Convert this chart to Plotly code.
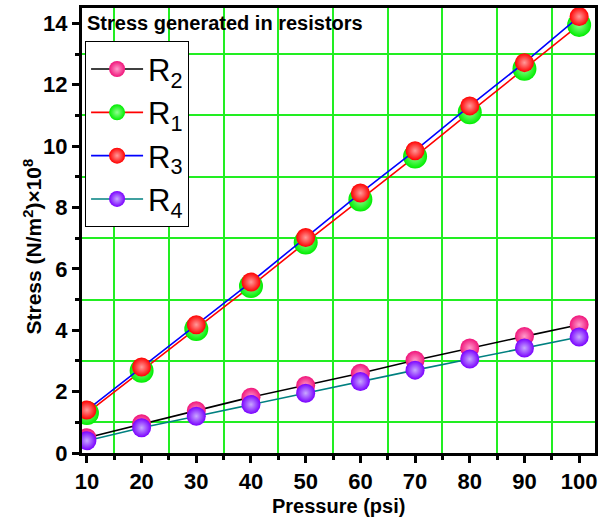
import plotly.graph_objects as go

pressure = [10, 20, 30, 40, 50, 60, 70, 80, 90, 100]
r2 = [0.50, 0.95, 1.38, 1.82, 2.20, 2.60, 3.02, 3.42, 3.80, 4.18]
r1 = [1.30, 2.68, 4.04, 5.44, 6.86, 8.26, 9.66, 11.10, 12.52, 13.95]
r3 = [1.40, 2.80, 4.18, 5.57, 7.02, 8.47, 9.85, 11.31, 12.72, 14.22]
r4 = [0.40, 0.82, 1.20, 1.58, 1.95, 2.33, 2.70, 3.06, 3.42, 3.78]

series = [
    ("R<sub>2</sub>", r2, "black", "#f0147a", "#ff9ccc", 19),
    ("R<sub>1</sub>", r1, "red", "#00ee00", "#90ff90", 24),
    ("R<sub>3</sub>", r3, "blue", "#ff0000", "#ff9a9a", 19),
    ("R<sub>4</sub>", r4, "#008080", "#7a00ff", "#c8a8ff", 19),
]

fig = go.Figure()
for name, ys, lc, mc, hc, ms in series:
    fig.add_trace(go.Scatter(
        x=pressure, y=ys, name=name, mode="lines+markers",
        line=dict(color=lc, width=1.6),
        marker=dict(size=ms, color=mc, line=dict(width=0),
                    gradient=dict(type="radial", color=hc)),
    ))

axis_font = dict(family="Arial", size=22, color="black")
grid_green = "#22ee22"
fig.update_layout(
    width=605, height=520,
    margin=dict(l=82, r=10, t=8, b=67),
    plot_bgcolor="white", paper_bgcolor="white",
    font=dict(family="Arial", color="black"),
    showlegend=True,
    legend=dict(x=0.006, y=0.925, xanchor="left", yanchor="top",
                bordercolor="black", borderwidth=1, bgcolor="white",
                font=dict(family="Arial", size=31, color="black"),
                tracegroupgap=0, itemwidth=52),
    xaxis=dict(
        range=[9.1, 102.9], tick0=10, dtick=10, automargin=False,
        showgrid=False, zeroline=False,
        showline=True, linecolor="black", linewidth=3, mirror=True,
        ticks="outside", ticklen=7, tickwidth=2.5, tickcolor="black",
        tickfont=axis_font, tickprefix="<b>", ticksuffix="</b>",
        minor=dict(dtick=5, tick0=5, ticks="outside", ticklen=4, tickwidth=2.5,
                   tickcolor="black", showgrid=True, gridcolor=grid_green, gridwidth=2),
    ),
    yaxis=dict(
        range=[0, 14.5], tick0=0, dtick=2, automargin=False,
        showgrid=False, zeroline=False,
        showline=True, linecolor="black", linewidth=3, mirror=True,
        ticks="outside", ticklen=7, tickwidth=2.5, tickcolor="black",
        tickfont=axis_font, tickprefix="<b>", ticksuffix="</b>",
        minor=dict(dtick=1, tick0=1, ticks="outside", ticklen=4, tickwidth=2.5,
                   tickcolor="black", showgrid=True, gridcolor=grid_green, gridwidth=2),
    ),
    annotations=[
        dict(text="<b>Stress generated in resistors</b>", xref="paper", yref="paper",
             x=0, y=1, xanchor="left", yanchor="top", xshift=3, yshift=-2,
             showarrow=False, font=dict(family="Arial", size=20, color="black")),
        dict(text="<b>Pressure (psi)</b>", xref="paper", yref="paper",
             x=0.5, y=0, xanchor="center", yanchor="top", yshift=-40,
             showarrow=False, font=dict(family="Arial", size=20, color="black")),
        dict(text="<b>Stress (N/m<sup>2</sup>)×10<sup>8</sup></b>", xref="paper", yref="paper",
             x=0, y=0.5, xanchor="center", yanchor="middle", xshift=-50, yshift=-16,
             textangle=-90, showarrow=False,
             font=dict(family="Arial", size=21, color="black")),
    ],
)

fig.write_html("out.html", config={"displayModeBar": False},
               post_script="document.body.style.margin='0';")
